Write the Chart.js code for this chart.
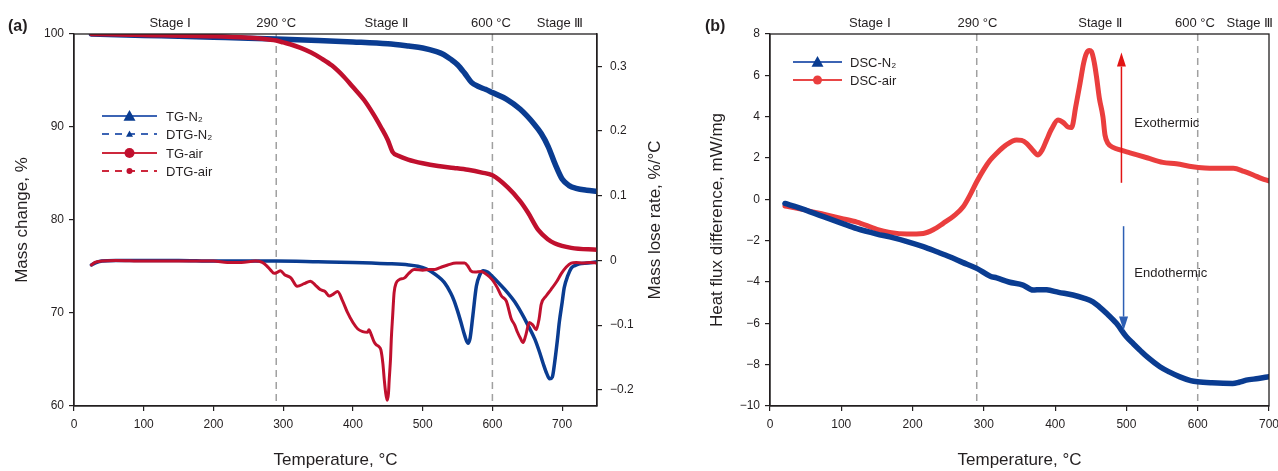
<!DOCTYPE html>
<html>
<head>
<meta charset="utf-8">
<script src="https://cdn.jsdelivr.net/npm/chart.js@4.4.1/dist/chart.umd.min.js"></script>
<style>
  html, body { margin: 0; padding: 0; background: #fff; }
  #boxA { position: absolute; left: 0; top: 0; }
  #boxB { position: absolute; left: 690px; top: 0; }
</style>
</head>
<body>
<canvas id="boxA" width="690" height="471"></canvas>
<canvas id="boxB" width="588" height="471"></canvas>
<script>
// ---- data ----
const tgN2Temp = [25, 50, 100, 150, 200, 250, 290, 350, 400, 450, 480, 500, 520, 530, 540, 550, 560, 570, 580, 590, 600, 620, 640, 660, 670, 680, 690, 700, 710, 720, 735, 750];
const tgN2Mass = [100.0, 99.95, 99.85, 99.75, 99.65, 99.55, 99.45, 99.3, 99.15, 98.95, 98.7, 98.5, 98.1, 97.8, 97.3, 96.7, 95.8, 94.8, 94.35, 94.05, 93.7, 93.0, 91.9, 90.3, 89.3, 87.9, 86.0, 84.4, 83.7, 83.4, 83.2, 83.1];

const tgAirTemp = [25, 100, 200, 250, 270, 290, 300, 310, 325, 340, 354, 370, 387, 400, 416, 430, 440, 450, 457, 465, 479, 500, 522, 545, 565, 585, 600, 622, 640, 651, 666, 680, 689, 713, 750];
const tgAirMass = [100.0, 99.9, 99.75, 99.6, 99.5, 99.3, 99.1, 98.9, 98.5, 98.0, 97.4, 96.6, 95.4, 94.3, 92.9, 91.3, 90.0, 88.6, 87.3, 86.9, 86.5, 86.1, 85.8, 85.6, 85.4, 85.1, 84.8, 83.5, 82.0, 80.8, 78.9, 77.9, 77.5, 77.0, 76.8];

const dtgN2Temp = [25, 30, 40, 60, 100, 150, 200, 250, 290, 350, 400, 450, 480, 493, 505, 512, 520, 531, 540, 545, 550, 555, 560, 565, 568, 572, 577, 582, 587, 593, 600, 610, 622, 632, 641, 650, 661, 668, 673, 678, 682, 686, 689, 693, 696, 700, 703, 708, 713, 718, 725, 737, 750];
const dtgN2Rate = [-0.007, -0.004, -0.001, 0, 0, 0, -0.001, -0.001, -0.001, -0.002, -0.003, -0.005, -0.007, -0.009, -0.013, -0.017, -0.023, -0.034, -0.050, -0.062, -0.078, -0.096, -0.115, -0.128, -0.120, -0.085, -0.040, -0.022, -0.016, -0.018, -0.025, -0.036, -0.050, -0.064, -0.080, -0.098, -0.122, -0.143, -0.160, -0.175, -0.183, -0.180, -0.160, -0.125, -0.095, -0.065, -0.042, -0.024, -0.012, -0.008, -0.005, -0.004, -0.002];

const dtgAirTemp = [25, 30, 40, 60, 100, 150, 200, 220, 240, 260, 270, 276, 282, 287, 292, 296, 302, 311, 320, 330, 339, 346, 353, 360, 366, 372, 378, 385, 392, 400, 407, 414, 421, 423, 426, 430, 433, 437, 440, 443, 445, 447, 449, 451, 452, 454, 455, 457, 459, 462, 466, 474, 480, 488, 500, 510, 517, 525, 536, 548, 560, 565, 569, 575, 584, 592, 600, 607, 613, 620, 627, 632, 636, 640, 644, 648, 653, 658, 663, 667, 670, 677, 684, 692, 699, 706, 713, 720, 730, 740, 750];
const dtgAirRate = [-0.007, -0.003, -0.001, 0, -0.001, -0.001, -0.001, -0.003, -0.003, -0.001, -0.003, -0.008, -0.015, -0.020, -0.018, -0.016, -0.022, -0.027, -0.040, -0.036, -0.032, -0.038, -0.045, -0.048, -0.055, -0.052, -0.048, -0.062, -0.080, -0.096, -0.106, -0.110, -0.111, -0.107, -0.114, -0.125, -0.130, -0.133, -0.138, -0.160, -0.185, -0.205, -0.216, -0.205, -0.185, -0.150, -0.122, -0.085, -0.050, -0.035, -0.030, -0.027, -0.020, -0.014, -0.015, -0.014, -0.014, -0.011, -0.007, -0.004, -0.004, -0.009, -0.016, -0.018, -0.017, -0.022, -0.030, -0.042, -0.055, -0.063, -0.090, -0.100, -0.111, -0.120, -0.127, -0.115, -0.096, -0.100, -0.107, -0.090, -0.068, -0.055, -0.045, -0.033, -0.020, -0.010, -0.004, -0.003, -0.004, -0.003, -0.004];

const dscN2Temp = [21, 40, 75, 100, 122, 150, 168, 190, 215, 235, 252, 270, 290, 309, 318, 335, 355, 369, 380, 388, 405, 425, 440, 453, 462, 472, 486, 500, 510, 519, 530, 547, 560, 575, 590, 600, 620, 649, 658, 668, 685, 700];
const dscN2Flow = [-0.2, -0.4, -0.84, -1.15, -1.42, -1.68, -1.82, -2.02, -2.29, -2.55, -2.78, -3.05, -3.34, -3.72, -3.8, -4.0, -4.15, -4.39, -4.37, -4.38, -4.5, -4.63, -4.78, -4.96, -5.2, -5.51, -6.0, -6.65, -7.0, -7.3, -7.65, -8.1, -8.35, -8.59, -8.77, -8.83, -8.88, -8.91, -8.85, -8.75, -8.67, -8.58];

const dscAirTemp = [21, 40, 75, 100, 122, 150, 168, 192, 215, 230, 243, 258, 271, 282, 290, 300, 309, 318, 330, 346, 353, 360, 368, 376, 382, 388, 395, 404, 412, 418, 423, 429, 435, 440, 444, 448, 451, 455, 458, 462, 467, 470, 474, 482, 491, 505, 515, 530, 551, 570, 593, 610, 622, 650, 665, 678, 690, 700];
const dscAirFlow = [-0.32, -0.45, -0.72, -0.92, -1.1, -1.45, -1.6, -1.68, -1.65, -1.45, -1.16, -0.8, -0.36, 0.3, 0.85, 1.45, 1.9, 2.23, 2.6, 2.87, 2.85, 2.71, 2.4, 2.15, 2.4, 2.87, 3.4, 3.84, 3.7, 3.5, 3.48, 4.5, 5.63, 6.6, 7.07, 7.2, 7.15, 6.6, 5.94, 4.9, 4.0, 3.1, 2.71, 2.5, 2.39, 2.25, 2.15, 2.0, 1.79, 1.72, 1.58, 1.52, 1.5, 1.5, 1.35, 1.18, 1.0, 0.89];

const stageMarks = [290, 600];
const rateTicks = [-0.2, -0.1, 0, 0.1, 0.2, 0.3];

// ---- styling ----
const FONT = '"Liberation Sans", Arial, sans-serif';
const INK = '#231f20';
const BLUE = 'rgb(10, 60, 145)';
const RED_A = 'rgb(192, 16, 46)';
const RED_B = 'rgb(234, 62, 62)';

function pts(xs, ys) {
  return xs.map((x, i) => ({ x: x, y: ys[i] }));
}
function minus(v) {
  return String(Math.round(v * 10) / 10).replace('-', '\u2212');
}

function drawMarks(chart) {
  const c = chart.ctx, a = chart.chartArea, xs = chart.scales.x;
  c.save();
  c.strokeStyle = '#a0a0a0';
  c.lineWidth = 1.5;
  c.setLineDash([7, 5]);
  stageMarks.forEach(t => {
    const px = xs.getPixelForValue(t);
    c.beginPath();
    c.moveTo(px, a.top);
    c.lineTo(px, a.bottom);
    c.stroke();
  });
  c.restore();
}

function drawFrame(chart) {
  const c = chart.ctx, a = chart.chartArea;
  c.save();
  c.strokeStyle = INK;
  c.lineWidth = 1.3;
  c.strokeRect(a.left, a.top, a.right - a.left, a.bottom - a.top);
  c.restore();
}

function drawTopLabels(chart, items) {
  const c = chart.ctx, xs = chart.scales.x;
  c.save();
  c.fillStyle = INK;
  c.font = '13px ' + FONT;
  c.textAlign = 'center';
  c.textBaseline = 'alphabetic';
  items.forEach(it => c.fillText(it[0], xs.getPixelForValue(it[1]), 27));
  c.restore();
}

function vTitle(c, text, x, y) {
  c.save();
  c.translate(x, y);
  c.rotate(-Math.PI / 2);
  c.fillStyle = INK;
  c.font = '17px ' + FONT;
  c.textAlign = 'center';
  c.textBaseline = 'alphabetic';
  c.fillText(text, 0, 0);
  c.restore();
}

function hTitle(chart, text) {
  const c = chart.ctx, a = chart.chartArea;
  c.save();
  c.fillStyle = INK;
  c.font = '17px ' + FONT;
  c.textAlign = 'center';
  c.fillText(text, (a.left + a.right) / 2, 465);
  c.restore();
}

function panelTag(c, text, x) {
  c.save();
  c.fillStyle = INK;
  c.font = 'bold 16px ' + FONT;
  c.textAlign = 'left';
  c.fillText(text, x, 31);
  c.restore();
}

function marker(c, kind, x, y, s, color) {
  c.fillStyle = color;
  c.beginPath();
  if (kind === 'tri') {
    c.moveTo(x, y - s);
    c.lineTo(x + s, y + s * 0.8);
    c.lineTo(x - s, y + s * 0.8);
    c.closePath();
  } else {
    c.arc(x, y, s, 0, Math.PI * 2);
  }
  c.fill();
}

function drawLegend(c, rows, x0, x1, xt, font) {
  c.save();
  c.font = font;
  c.textBaseline = 'middle';
  rows.forEach(r => {
    c.strokeStyle = r.line;
    c.lineWidth = 2;
    c.setLineDash(r.dash ? [7, 6] : []);
    c.beginPath();
    c.moveTo(x0, r.y);
    c.lineTo(x1, r.y);
    c.stroke();
    c.setLineDash([]);
    marker(c, r.kind, (x0 + x1) / 2, r.y, r.size, r.mark);
    c.fillStyle = INK;
    c.fillText(r.label, xt, r.y + 1);
  });
  c.restore();
}

function arrow(c, x, y0, y1, color) {
  const dir = y1 < y0 ? -1 : 1;
  const head = 14;
  c.save();
  c.strokeStyle = color;
  c.fillStyle = color;
  c.lineWidth = 1.5;
  c.beginPath();
  c.moveTo(x, y0);
  c.lineTo(x, y1 - dir * head);
  c.stroke();
  c.beginPath();
  c.moveTo(x, y1);
  c.lineTo(x - 4.5, y1 - dir * head);
  c.lineTo(x + 4.5, y1 - dir * head);
  c.closePath();
  c.fill();
  c.restore();
}

const tickFont = { family: FONT, size: 12 };
const axisGrid = { drawOnChartArea: false, drawTicks: true, tickLength: 5, color: INK, lineWidth: 1.2 };
const axisBorder = { color: INK, width: 1.3 };

// ---- panel (a) ----
const decorA = {
  id: 'decorA',
  beforeDatasetsDraw(chart) { drawMarks(chart); },
  afterDraw(chart) {
    const c = chart.ctx;
    drawFrame(chart);
    drawTopLabels(chart, [['Stage \u2160', 138], ['290 \u00b0C', 290], ['Stage \u2161', 448], ['600 \u00b0C', 598], ['Stage \u2162', 697]]);
    panelTag(c, '(a)', 8);
    vTitle(c, 'Mass change, %', 27, 220);
    vTitle(c, 'Mass lose rate, %/\u00b0C', 660, 220);
    hTitle(chart, 'Temperature, \u00b0C');
    drawLegend(c, [
      { label: 'TG-N\u2082', y: 116, line: 'rgb(60,100,180)', mark: BLUE, kind: 'tri', size: 6, dash: false },
      { label: 'DTG-N\u2082', y: 134, line: 'rgb(60,100,180)', mark: BLUE, kind: 'tri', size: 3.5, dash: true },
      { label: 'TG-air', y: 153, line: 'rgb(205,40,60)', mark: RED_A, kind: 'dot', size: 5, dash: false },
      { label: 'DTG-air', y: 171, line: 'rgb(205,40,60)', mark: RED_A, kind: 'dot', size: 3, dash: true }
    ], 102, 157, 166, '13px ' + FONT);
  }
};

new Chart(document.getElementById('boxA'), {
  type: 'line',
  data: {
    datasets: [
      { data: pts(dtgAirTemp, dtgAirRate), yAxisID: 'y2', borderColor: RED_A, borderWidth: 3 },
      { data: pts(tgAirTemp, tgAirMass), yAxisID: 'y', borderColor: RED_A, borderWidth: 4.5 },
      { data: pts(dtgN2Temp, dtgN2Rate), yAxisID: 'y2', borderColor: BLUE, borderWidth: 3.5 },
      { data: pts(tgN2Temp, tgN2Mass), yAxisID: 'y', borderColor: BLUE, borderWidth: 5.5 }
    ]
  },
  options: {
    responsive: false,
    animation: false,
    layout: { padding: { top: 34, right: 0, left: 0, bottom: 0 } },
    elements: { point: { radius: 0 }, line: { cubicInterpolationMode: 'monotone', borderCapStyle: 'round', borderJoinStyle: 'round' } },
    plugins: { legend: { display: false }, tooltip: { enabled: false } },
    scales: {
      x: {
        type: 'linear', min: 0, max: 750,
        ticks: { stepSize: 100, color: INK, font: tickFont, padding: 6, maxRotation: 0 },
        afterBuildTicks(s) { s.ticks = s.ticks.filter(t => t.value % 100 === 0); },
        afterFit(s) { s.height = 65; },
        grid: axisGrid, border: axisBorder
      },
      y: {
        position: 'left', min: 60, max: 100,
        ticks: { stepSize: 10, color: INK, font: tickFont, padding: 5 },
        afterFit(s) { s.width = 74; },
        grid: axisGrid, border: axisBorder
      },
      y2: {
        position: 'right', min: -0.225, max: 0.35,
        ticks: { color: INK, font: tickFont, padding: 8, callback: v => minus(v) },
        afterBuildTicks(s) { s.ticks = rateTicks.map(v => ({ value: v })); },
        afterFit(s) { s.width = 93; },
        grid: axisGrid, border: axisBorder
      }
    }
  },
  plugins: [decorA]
});

// ---- panel (b) ----
const decorB = {
  id: 'decorB',
  beforeDatasetsDraw(chart) { drawMarks(chart); },
  afterDraw(chart) {
    const c = chart.ctx, xs = chart.scales.x, ys = chart.scales.y;
    drawFrame(chart);
    drawTopLabels(chart, [['Stage \u2160', 140], ['290 \u00b0C', 291], ['Stage \u2161', 463], ['600 \u00b0C', 596], ['Stage \u2162', 673]]);
    panelTag(c, '(b)', 15);
    vTitle(c, 'Heat flux difference, mW/mg', 32, 220);
    hTitle(chart, 'Temperature, \u00b0C');
    drawLegend(c, [
      { label: 'DSC-N\u2082', y: 62, line: 'rgb(60,100,180)', mark: BLUE, kind: 'tri', size: 6, dash: false },
      { label: 'DSC-air', y: 80, line: 'rgb(232,70,70)', mark: RED_B, kind: 'dot', size: 4.5, dash: false }
    ], 103, 152, 160, '13px ' + FONT);
    arrow(c, xs.getPixelForValue(493), ys.getPixelForValue(0.8), ys.getPixelForValue(7.1), 'rgb(226,20,20)');
    arrow(c, xs.getPixelForValue(496), ys.getPixelForValue(-1.3), ys.getPixelForValue(-6.35), 'rgb(45,95,180)');
    c.save();
    c.fillStyle = INK;
    c.font = '13px ' + FONT;
    c.textBaseline = 'middle';
    c.fillText('Exothermic', xs.getPixelForValue(511), 123);
    c.fillText('Endothermic', xs.getPixelForValue(511), 273);
    c.restore();
  }
};

new Chart(document.getElementById('boxB'), {
  type: 'line',
  data: {
    datasets: [
      { data: pts(dscN2Temp, dscN2Flow), borderColor: BLUE, borderWidth: 5.5 },
      { data: pts(dscAirTemp, dscAirFlow), borderColor: RED_B, borderWidth: 5 }
    ]
  },
  options: {
    responsive: false,
    animation: false,
    layout: { padding: { top: 34, right: 9, left: 0, bottom: 0 } },
    elements: { point: { radius: 0 }, line: { cubicInterpolationMode: 'monotone', borderCapStyle: 'round', borderJoinStyle: 'round' } },
    plugins: { legend: { display: false }, tooltip: { enabled: false } },
    scales: {
      x: {
        type: 'linear', min: 0, max: 700,
        ticks: { stepSize: 100, color: INK, font: tickFont, padding: 6, maxRotation: 0 },
        afterFit(s) { s.height = 65; s.paddingLeft = 0; s.paddingRight = 0; },
        grid: axisGrid, border: axisBorder
      },
      y: {
        position: 'left', min: -10, max: 8,
        ticks: { stepSize: 2, color: INK, font: tickFont, padding: 5, callback: v => minus(v) },
        afterFit(s) { s.width = 80; },
        grid: axisGrid, border: axisBorder
      }
    }
  },
  plugins: [decorB]
});
</script>
</body>
</html>
